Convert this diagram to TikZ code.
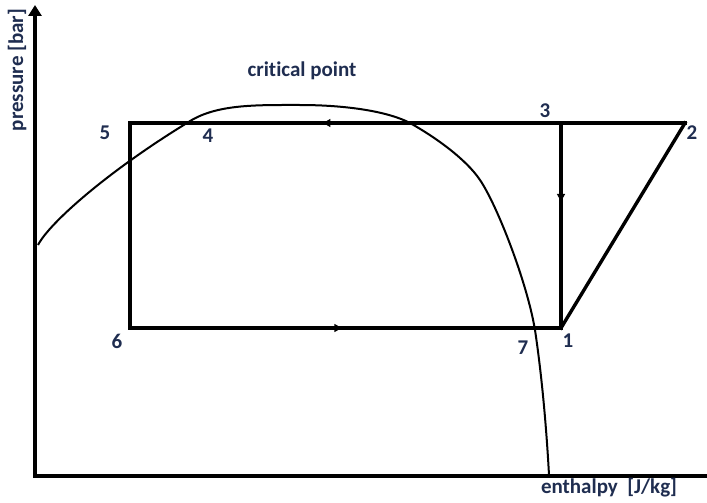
\documentclass[tikz,border=0pt]{standalone}
\usepackage{fontspec}
\setmainfont{Carlito}[Ligatures=NoCommon]
\usetikzlibrary{arrows.meta,decorations.markings}
\definecolor{lbl}{RGB}{31,45,80}
\tikzset{
  cyc/.style={line width=3.4pt, line cap=rect},
  axis/.style={line width=3.4pt},
  dome/.style={line width=2pt},
  lab/.style={text=lbl, font=\fontsize{21}{24}\selectfont\bfseries, inner sep=0pt},
  midarrow/.style={postaction={decorate}, decoration={markings, mark=at position #1 with {\arrow{Latex[length=9pt,width=9pt]}}}}
}
\begin{document}
\begin{tikzpicture}[x=1pt,y=-1pt]
\useasboundingbox (0,0) rectangle (707,503);
% axes
\coordinate (o) at (35,476);
\coordinate (xs) at (33,476);
\coordinate (ytop) at (35,5);
\coordinate (xend) at (707,476);
\draw[axis, -{Triangle[length=11pt,width=13pt]}] (o) -- (ytop);
\draw[axis] (xs) -- (xend);
% cycle points
\coordinate (p1) at (561,328);
\coordinate (p2) at (685,123);
\coordinate (p3) at (561,123);
\coordinate (p5) at (130,123);
\coordinate (p6) at (130,328);
\draw[cyc, midarrow=0.655] (p2) -- (p5);
\draw[cyc] (p5) -- (p6);
\draw[cyc, midarrow=0.495] (p6) -- (p1);
\draw[cyc] (p1) -- (p2);
\draw[cyc, midarrow=0.39] (p3) -- (p1);
% saturation dome
\coordinate (d0) at (38,245);
\coordinate (d1) at (187,123);
\coordinate (d2) at (300,105);
\coordinate (d3) at (410,123);
\coordinate (d4) at (480,180);
\coordinate (d5) at (535,330);
\coordinate (d6) at (549,475);
\draw[dome] (d0) .. controls (50,222) and (110,170) .. (d1)
  .. controls (215,104) and (255,105) .. (d2)
  .. controls (340,105) and (385,110) .. (d3)
  .. controls (435,137) and (466,159) .. (d4)
  .. controls (497,205) and (527,282) .. (d5)
  .. controls (541,370) and (546,420) .. (d6);
% labels
\node[lab, rotate=90] (ylab) at (17,70) {pressure [bar]};
\node[lab, anchor=base] (cp) at (302,77) {critical point};
\node[lab, anchor=base] (xlab) at (609,493) {enthalpy\ \ [J/kg]};
\node[lab] (l5) at (105,133) {5};
\node[lab] (l4) at (208,136) {4};
\node[lab] (l3) at (545,111) {3};
\node[lab] (l2) at (692,133) {2};
\node[lab] (l6) at (117,341) {6};
\node[lab] (l7) at (523,348) {7};
\node[lab] (l1) at (568,341) {1};
\end{tikzpicture}
\end{document}
